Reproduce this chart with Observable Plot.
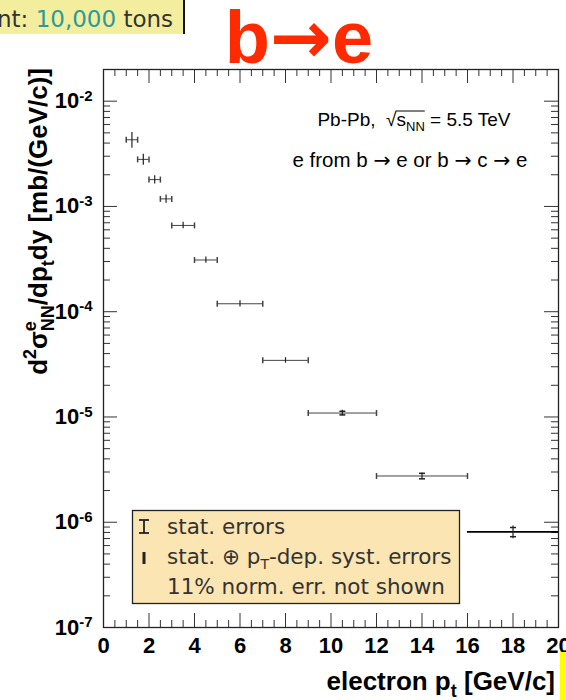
<!DOCTYPE html>
<html><head><meta charset="utf-8">
<script src="https://cdn.jsdelivr.net/npm/d3@7"></script>
<script src="https://cdn.jsdelivr.net/npm/@observablehq/plot@0.6"></script>
<style>
body{margin:0;background:#fff;overflow:hidden}
#wrap{position:relative;width:566px;height:700px;overflow:hidden}
</style></head><body><div id="wrap"></div>
<script>
// ---- data ----
const ptCenter = [1.25, 1.75, 2.25, 2.75, 3.5, 4.5, 6, 8, 10.5, 14, 18];
const ptLow    = [1, 1.5, 2, 2.5, 3, 4, 5, 7, 9, 12, 16];
const ptHigh   = [1.5, 2, 2.5, 3, 4, 5, 7, 9, 12, 16, 20];
const dsigma   = [4.3e-3, 2.8e-3, 1.8e-3, 1.18e-3, 6.6e-4, 3.1e-4, 1.19e-4, 3.45e-5, 1.09e-5, 2.75e-6, 8.1e-7];
const systRel  = [0.17, 0.12, 0.09, 0.09, 0.07, 0.07, 0.07, 0.06, 0.06, 0.07, 0.14];
const statRel  = [0, 0, 0, 0, 0, 0, 0, 0, 0.04, 0.06, 0.1];
const xTickLabels = [0, 2, 4, 6, 8, 10, 12, 14, 16, 18, 20];
const yTickValues = [1e-2, 1e-3, 1e-4, 1e-5, 1e-6, 1e-7];
const yTickExps   = ["-2", "-3", "-4", "-5", "-6", "-7"];
const legendLines = ["stat. errors", "stat. \u2295 p", "11% norm. err. not shown"];

// ---- layout ----
const W = 566, H = 700, mT = 69, mB = 73, mL = 103, mR = 8;
const fw = W - mL - mR, fh = H - mT - mB;

const rows = ptCenter.map((x, i) => ({x, lo: ptLow[i], hi: ptHigh[i], y: dsigma[i], s: systRel[i], st: statRel[i], last: i === ptCenter.length - 1}));
const inner = rows.filter(d => !d.last);
const lastRow = rows.filter(d => d.last);
const withStat = rows.filter(d => d.st > 0);

const xMinor = d3.range(0, 20.001, 0.5).filter(v => Math.abs(v / 2 - Math.round(v / 2)) > 1e-6);
const yMinor = [];
for (let e = -7; e <= -2; e++) for (let m = 2; m <= 9; m++) { const v = m * Math.pow(10, e); if (v < 2e-2) yMinor.push(v); }

const vBar = {draw(c) { c.moveTo(0, -3); c.lineTo(0, 3); }};
const hBar = {draw(c) { c.moveTo(-3, 0); c.lineTo(3, 0); }};
const barColor = "#444";

const plot = Plot.plot({
  width: W, height: H,
  marginTop: mT, marginBottom: mB, marginLeft: mL, marginRight: mR,
  style: {fontFamily: "'Liberation Sans', Arial, sans-serif", fontSize: "22px", color: "#000", background: "transparent", overflow: "visible"},
  x: {domain: [0, 20]},
  y: {type: "log", domain: [1e-7, 2e-2]},
  marks: [
    // inside ticks (ROOT style)
    Plot.ruleX(xTickLabels, {x: d => d, insetTop: fh - 14, stroke: "#333"}),
    Plot.ruleX(xTickLabels, {x: d => d, insetBottom: fh - 14, stroke: "#333"}),
    Plot.ruleX(xMinor, {x: d => d, insetTop: fh - 7, stroke: "#333"}),
    Plot.ruleX(xMinor, {x: d => d, insetBottom: fh - 7, stroke: "#333"}),
    Plot.ruleY(yTickValues, {y: d => d, insetRight: fw - 14, stroke: "#333"}),
    Plot.ruleY(yTickValues, {y: d => d, insetLeft: fw - 14, stroke: "#333"}),
    Plot.ruleY(yMinor, {y: d => d, insetRight: fw - 7, stroke: "#333"}),
    Plot.ruleY(yMinor, {y: d => d, insetLeft: fw - 7, stroke: "#333"}),
    Plot.frame({stroke: "#222", strokeWidth: 1.3}),
    // horizontal bin-width bars
    Plot.ruleY(inner, {y: "y", x1: "lo", x2: "hi", stroke: barColor, strokeWidth: 1}),
    Plot.dot(inner, {x: "lo", y: "y", symbol: vBar, r: 3, stroke: barColor, fill: "none"}),
    Plot.dot(inner, {x: "hi", y: "y", symbol: vBar, r: 3, stroke: barColor, fill: "none"}),
    Plot.ruleY(lastRow, {y: "y", x1: "lo", x2: "hi", stroke: "#000", strokeWidth: 1.6}),
    // vertical stat (+) syst error bars
    Plot.ruleX(rows, {x: "x", y1: d => d.y * (1 - d.s), y2: d => d.y * (1 + d.s), stroke: "#222", strokeWidth: 1.2}),
    // stat error caps
    Plot.dot(withStat, {x: "x", y: d => d.y * (1 + d.st), symbol: hBar, r: 3, stroke: "#222", fill: "none"}),
    Plot.dot(withStat, {x: "x", y: d => d.y * (1 - d.st), symbol: hBar, r: 3, stroke: "#222", fill: "none"}),
    // axes labels
    Plot.axisX(xTickLabels, {tickSize: 0, tickPadding: 10, label: null, tickFormat: d => String(d), fontSize: 22, fontWeight: "bold"}),
    Plot.axisY(yTickValues, {tickSize: 0, tickPadding: 11, label: null, tickFormat: d => yTickExps[yTickValues.indexOf(d)], fontSize: 22, fontWeight: "bold"})
  ]
});
document.getElementById("wrap").appendChild(plot);

const svg = d3.select(plot);
// superscript exponents on y tick labels
svg.selectAll('g[aria-label="y-axis tick label"] text').each(function () {
  const t = d3.select(this); const e = t.text();
  t.text("10");
  t.append("tspan").attr("dy", "-0.5em").attr("font-size", 15).text(e);
});

const SANS = "'Liberation Sans', Arial, sans-serif";
const DJ = "'DejaVu Sans', sans-serif";
const txt = (parent) => parent.append("text").attr("text-anchor", "start").attr("font-weight", "normal");

// y axis title
const yl = txt(svg).attr("transform", "translate(47,68) rotate(-90)")
  .attr("text-anchor", "end").attr("font-family", SANS).attr("font-size", 26).attr("font-weight", "bold").attr("fill", "#000");
yl.append("tspan").text("d");
yl.append("tspan").attr("dy", -11).attr("font-size", 18).text("2");
yl.append("tspan").attr("dy", 11).text("\u03c3");
yl.append("tspan").attr("dy", -11).attr("font-size", 18).text("e");
yl.append("tspan").attr("dx", -10).attr("dy", 18).attr("font-size", 18).text("NN");
yl.append("tspan").attr("dy", -7).text("/dp");
yl.append("tspan").attr("dy", 7).attr("font-size", 18).text("t");
yl.append("tspan").attr("dy", -7).text("dy [mb/(GeV/c)]");

// x axis title
const xl = txt(svg).attr("x", 555).attr("y", 690).attr("text-anchor", "end")
  .attr("font-family", SANS).attr("font-size", 26).attr("font-weight", "bold").attr("fill", "#000");
xl.append("tspan").text("electron p");
xl.append("tspan").attr("dy", 7).attr("font-size", 18).text("t");
xl.append("tspan").attr("dy", -7).text(" [GeV/c]");

// annotations
const a1 = txt(svg).attr("x", 414).attr("y", 126).attr("text-anchor", "middle").attr("font-family", SANS).attr("font-size", 19).attr("fill", "#000");
a1.append("tspan").text("Pb-Pb,  \u221a");
const sT = a1.append("tspan").text("s");
const nnT = a1.append("tspan").attr("dy", 5).attr("font-size", 13).text("NN");
a1.append("tspan").attr("dy", -5).text(" = 5.5 TeV");
try {
  const b1 = sT.node().getBBox(), b2 = nnT.node().getBBox();
  svg.append("line").attr("x1", b1.x - 1).attr("x2", b2.x + b2.width).attr("y1", b1.y + 2).attr("y2", b1.y + 2).attr("stroke", "#000").attr("stroke-width", 1);
} catch (e) {}
const a2 = txt(svg).attr("x", 410).attr("y", 167).attr("text-anchor", "middle").attr("font-family", SANS).attr("font-size", 20.5).attr("fill", "#000");
a2.append("tspan").text("e from b ");
a2.append("tspan").attr("font-family", DJ).attr("font-weight", "normal").text("\u2192");
a2.append("tspan").text(" e or b ");
a2.append("tspan").attr("font-family", DJ).text("\u2192");
a2.append("tspan").text(" c ");
a2.append("tspan").attr("font-family", DJ).text("\u2192");
a2.append("tspan").text(" e");

// legend box
svg.append("rect").attr("x", 132.5).attr("y", 510.5).attr("width", 327).attr("height", 93).attr("fill", "#fbe5b3").attr("stroke", "#222").attr("stroke-width", 1.3);
svg.append("line").attr("x1", 144).attr("x2", 144).attr("y1", 520).attr("y2", 533).attr("stroke", "#222").attr("stroke-width", 1.8);
svg.append("line").attr("x1", 139).attr("x2", 149).attr("y1", 520).attr("y2", 520).attr("stroke", "#222").attr("stroke-width", 1.8);
svg.append("line").attr("x1", 139).attr("x2", 149).attr("y1", 533).attr("y2", 533).attr("stroke", "#222").attr("stroke-width", 1.8);
svg.append("line").attr("x1", 144).attr("x2", 144).attr("y1", 552).attr("y2", 564).attr("stroke", "#222").attr("stroke-width", 3);
const lg = svg.append("g").attr("font-family", DJ).attr("font-size", 21.5).attr("fill", "#333");
txt(lg).attr("x", 167).attr("y", 534).text(legendLines[0]);
const l2 = txt(lg).attr("x", 167).attr("y", 564);
l2.append("tspan").text(legendLines[1]);
l2.append("tspan").attr("dy", 5).attr("font-size", 14).text("T");
l2.append("tspan").attr("dy", -5).text("-dep. syst. errors");
txt(lg).attr("x", 167).attr("y", 594).text(legendLines[2]);

// top-left banner fragment
svg.append("rect").attr("x", -2).attr("y", -2).attr("width", 186).attr("height", 36).attr("fill", "#f3ee9d");
svg.append("line").attr("x1", 184).attr("x2", 184).attr("y1", 0).attr("y2", 34).attr("stroke", "#111").attr("stroke-width", 2);
const bn = txt(svg).attr("x", -3).attr("y", 27).attr("font-family", DJ).attr("font-size", 23).attr("fill", "#333");
bn.append("tspan").text("nt: ");
bn.append("tspan").attr("fill", "#2a9a9a").text("10,000");
bn.append("tspan").text(" tons");

// title
const tt = txt(svg).attr("x", 299).attr("y", 63).attr("text-anchor", "middle").attr("font-family", SANS).attr("font-size", 74).attr("font-weight", "bold").attr("fill", "#ff2a00");
tt.append("tspan").text("b");
tt.append("tspan").attr("font-family", DJ).text("\u2192");
tt.append("tspan").text("e");

// yellow marker bottom-right
svg.append("rect").attr("x", 560).attr("y", 652).attr("width", 6).attr("height", 48).attr("fill", "#ffff00");
</script>
</body></html>
